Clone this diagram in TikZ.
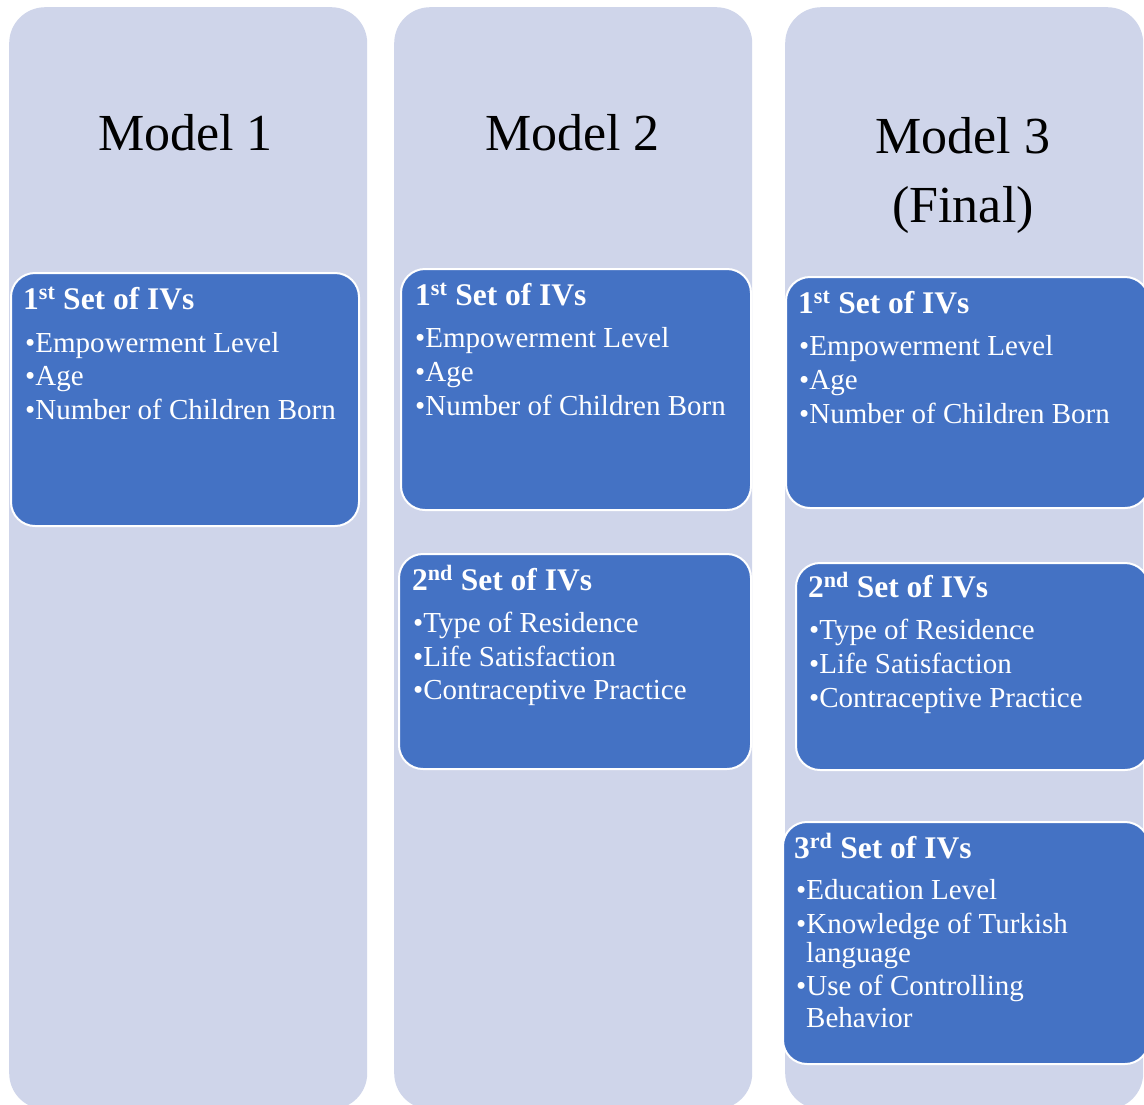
\documentclass[tikz,border=0pt]{standalone}
\usepackage{fontspec}
\setmainfont{Liberation Serif}
\definecolor{colbg}{HTML}{CFD5EA}
\definecolor{ivblue}{HTML}{4472C4}
\begin{document}
\begin{tikzpicture}[x=1pt,y=-1pt,
  column/.style={fill=colbg, rounded corners=36pt, inner sep=0, anchor=north west},
  ivbox/.style={fill=ivblue, draw=white, line width=2pt, rounded corners=24pt, inner sep=0, anchor=north west},
  head/.style={anchor=base west, inner sep=0, text=white, font=\fontsize{31.5}{36}\selectfont\bfseries},
  item/.style={anchor=base west, inner sep=0, text=white, font=\fontsize{29}{34}\selectfont},
  mtitle/.style={anchor=base, inner sep=0, font=\fontsize{52}{60}\selectfont}]
\fill[white] (0,0) rectangle (1144,1104);
\useasboundingbox (0,0) rectangle (1144,1104);
% columns
\node[column, minimum width=358pt, minimum height=1102pt] (c1) at (9,7) {};
\node[column, minimum width=358pt, minimum height=1102pt] (c2) at (394,7) {};
\node[column, minimum width=358pt, minimum height=1102pt] (c3) at (785,7) {};
% titles
\node[mtitle] (t1) at (185.5,150) {Model 1};
\node[mtitle] (t2) at (572.5,150) {Model 2};
\node[mtitle] (t3) at (963,153) {Model 3};
\node[mtitle] (t3b) at (963,222) {(Final)};
% column 1
\node[ivbox, minimum width=348pt, minimum height=253pt] (b11) at (10,272) {};
\node[head] (b11h) at (23,309) {1\textsuperscript{st} Set of IVs};
\node[item] (b11a) at (25,352) {•Empowerment Level};
\node[item] (b11b) at (25,385) {•Age};
\node[item] (b11c) at (25,419) {•Number of Children Born};
% column 2
\node[ivbox, minimum width=350pt, minimum height=241pt] (b21) at (400,268) {};
\node[head] (b21h) at (415,305) {1\textsuperscript{st} Set of IVs};
\node[item] (b21a) at (415,347) {•Empowerment Level};
\node[item] (b21b) at (415,381) {•Age};
\node[item] (b21c) at (415,415) {•Number of Children Born};
\node[ivbox, minimum width=352pt, minimum height=215pt] (b22) at (398,553) {};
\node[head] (b22h) at (412,590) {2\textsuperscript{nd} Set of IVs};
\node[item] (b22a) at (413,632) {•Type of Residence};
\node[item] (b22b) at (413,666) {•Life Satisfaction};
\node[item] (b22c) at (413,699) {•Contraceptive Practice};
% column 3
\node[ivbox, minimum width=363pt, minimum height=231pt] (b31) at (785,276) {};
\node[head] (b31h) at (798,313) {1\textsuperscript{st} Set of IVs};
\node[item] (b31a) at (799,355) {•Empowerment Level};
\node[item] (b31b) at (799,389) {•Age};
\node[item] (b31c) at (799,423) {•Number of Children Born};
\node[ivbox, minimum width=353pt, minimum height=207pt] (b32) at (795,562) {};
\node[head] (b32h) at (808,597) {2\textsuperscript{nd} Set of IVs};
\node[item] (b32a) at (809,639) {•Type of Residence};
\node[item] (b32b) at (809,673) {•Life Satisfaction};
\node[item] (b32c) at (809,707) {•Contraceptive Practice};
\node[ivbox, minimum width=366pt, minimum height=242pt] (b33) at (782,821) {};
\node[head] (b33h) at (794,858) {3\textsuperscript{rd} Set of IVs};
\node[item] (b33a) at (796,899) {•Education Level};
\node[item] (b33b) at (796,933) {•Knowledge of Turkish};
\node[item] (b33c) at (806,962) {language};
\node[item] (b33d) at (796,995) {•Use of Controlling};
\node[item] (b33e) at (806,1027) {Behavior};
\end{tikzpicture}
\end{document}
